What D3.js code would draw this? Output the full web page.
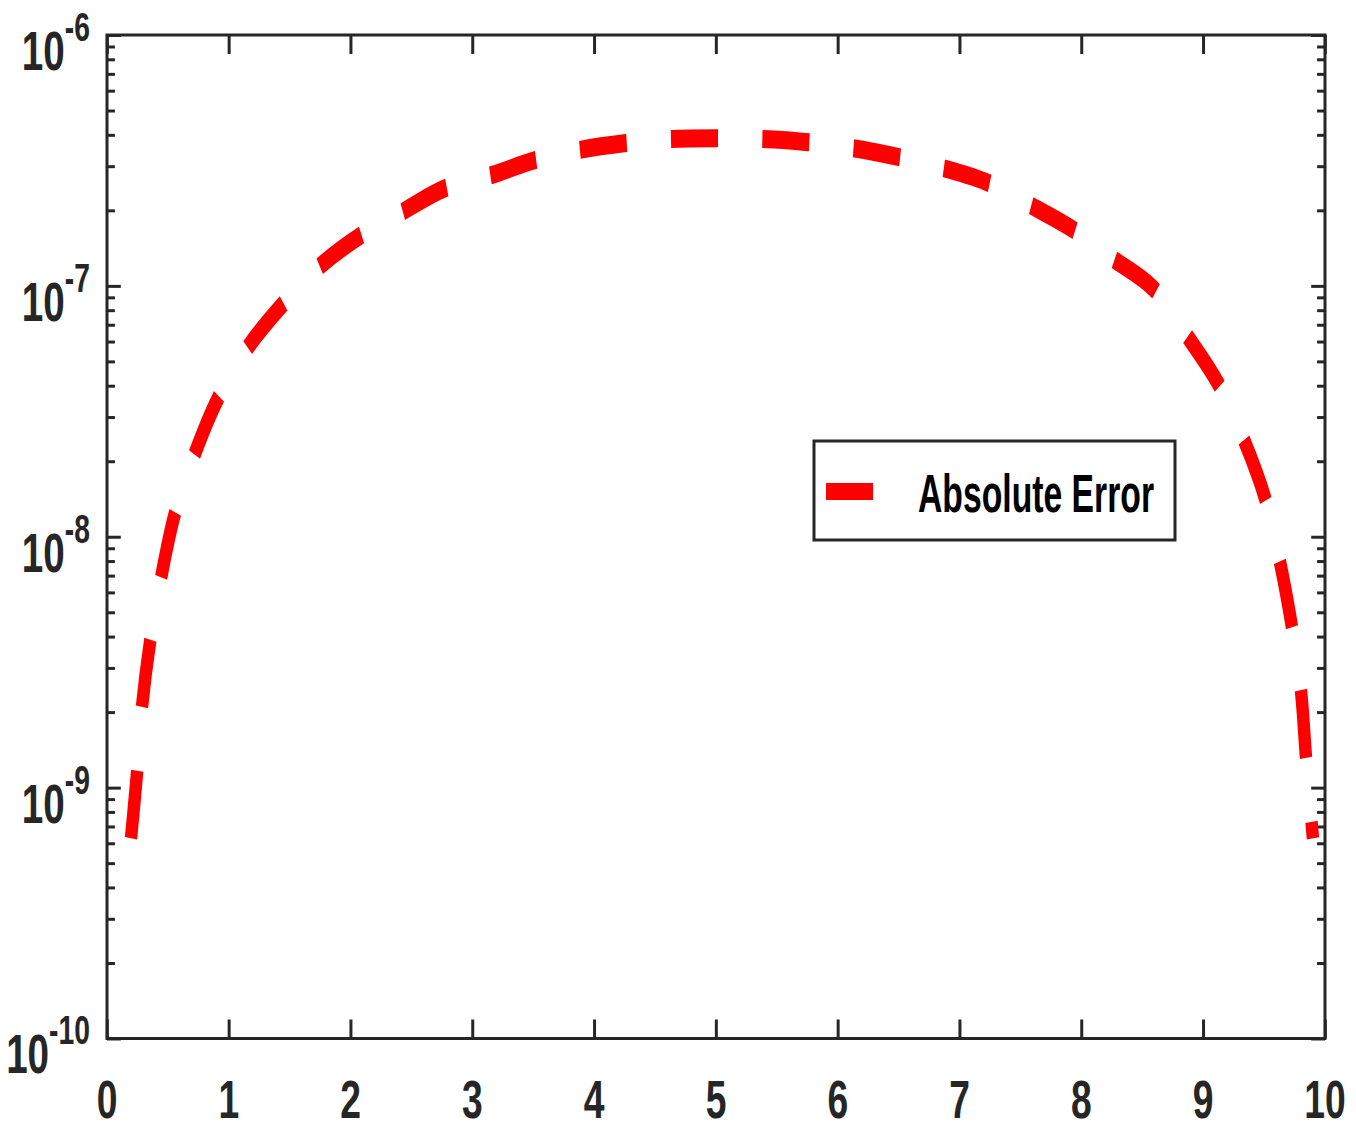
<!DOCTYPE html>
<html>
<head>
<meta charset="utf-8">
<script src="https://cdn.jsdelivr.net/npm/d3@7"></script>
<style>
  html, body { margin: 0; padding: 0; background: #ffffff; }
  svg { display: block; }
</style>
</head>
<body>
<script>
// ---------------- data ----------------
const xValues = [0.197, 0.246, 0.287, 0.353, 0.443, 0.558, 0.722, 0.911, 1.158, 1.437,
  1.732, 2.077, 2.422, 2.775, 3.161, 3.514, 3.875, 4.261, 4.622, 5.008,
  5.378, 5.755, 6.125, 6.502, 6.864, 7.241, 7.578, 7.939, 8.251, 8.588,
  8.875, 9.122, 9.335, 9.507, 9.631, 9.729, 9.803, 9.844, 9.901];
const errorValues = [6.28e-10, 1.14e-9, 2.09e-9, 3.79e-9, 6.82e-9, 1.24e-8, 2.15e-8, 3.56e-8, 5.70e-8, 8.38e-8,
  1.18e-7, 1.58e-7, 1.97e-7, 2.45e-7, 2.77e-7, 3.17e-7, 3.48e-7, 3.71e-7, 3.85e-7, 3.88e-7,
  3.85e-7, 3.74e-7, 3.54e-7, 3.26e-7, 2.95e-7, 2.57e-7, 2.10e-7, 1.67e-7, 1.29e-7, 9.79e-8,
  6.25e-8, 4.09e-8, 2.43e-8, 1.43e-8, 7.91e-9, 4.36e-9, 2.42e-9, 1.32e-9, 6.28e-10];
const xTicks = [0, 1, 2, 3, 4, 5, 6, 7, 8, 9, 10];
const xTickLabels = ["0", "1", "2", "3", "4", "5", "6", "7", "8", "9", "10"];
const yTicks = [1e-10, 1e-9, 1e-8, 1e-7, 1e-6];
const yTickExponents = ["-10", "-9", "-8", "-7", "-6"];
const seriesName = "Absolute Error";

// ---------------- layout ----------------
const W = 1356, H = 1135;
const SX = 0.69;                 // horizontal squash of the original figure
const plot = { left: 107, right: 1325, top: 35, bottom: 1038.5 };
const AX = "#262626";
const FONT = "'Liberation Sans', Arial, Helvetica, sans-serif";

const svg = d3.select("body").append("svg")
  .attr("width", W).attr("height", H)
  .attr("viewBox", `0 0 ${W} ${H}`);
svg.append("rect").attr("width", W).attr("height", H).attr("fill", "#fff");

const g = svg.append("g").attr("transform", `scale(${SX},1)`);

const x = d3.scaleLinear().domain([0, 10]).range([plot.left / SX, plot.right / SX]);
const y = d3.scaleLog().domain([1e-10, 1e-6]).range([plot.bottom, plot.top]);

// minor y ticks
const yMinor = [];
for (let e = -10; e < -6; e++) for (let m = 2; m <= 9; m++) yMinor.push(m * Math.pow(10, e));

function styleAxis(sel) {
  sel.select(".domain").remove();
  sel.selectAll("text").remove();
  sel.selectAll("line").attr("stroke", AX).attr("stroke-width", 3)
    .attr("vector-effect", "non-scaling-stroke");
}

// x ticks bottom / top (inward)
g.append("g").attr("transform", `translate(0,${plot.bottom})`)
  .call(d3.axisBottom(x).tickValues(xTicks).tickSize(-19).tickFormat(""))
  .call(styleAxis);
g.append("g").attr("transform", `translate(0,${plot.top})`)
  .call(d3.axisTop(x).tickValues(xTicks).tickSize(-19).tickFormat(""))
  .call(styleAxis);
// y major ticks left / right
g.append("g").attr("transform", `translate(${x(0)},0)`)
  .call(d3.axisLeft(y).tickValues(yTicks).tickSize(-20).tickFormat(""))
  .call(styleAxis);
g.append("g").attr("transform", `translate(${x(10)},0)`)
  .call(d3.axisRight(y).tickValues(yTicks).tickSize(-20).tickFormat(""))
  .call(styleAxis);
// y minor ticks
g.append("g").attr("transform", `translate(${x(0)},0)`)
  .call(d3.axisLeft(y).tickValues(yMinor).tickSize(-11.5).tickFormat(""))
  .call(styleAxis);
g.append("g").attr("transform", `translate(${x(10)},0)`)
  .call(d3.axisRight(y).tickValues(yMinor).tickSize(-11.5).tickFormat(""))
  .call(styleAxis);

// box
g.append("rect")
  .attr("x", x(0)).attr("y", plot.top)
  .attr("width", x(10) - x(0)).attr("height", plot.bottom - plot.top)
  .attr("fill", "none").attr("stroke", AX).attr("stroke-width", 3)
  .attr("vector-effect", "non-scaling-stroke");

// x labels
g.append("g").selectAll("text").data(xTicks).join("text")
  .attr("x", d => x(d)).attr("y", 1118)
  .attr("text-anchor", "middle")
  .attr("font-family", FONT).attr("font-weight", "bold").attr("font-size", 54)
  .attr("fill", AX)
  .text((d, i) => xTickLabels[i]);

// y labels 10^e
const yl = g.append("g").selectAll("text").data(yTicks).join("text")
  .attr("x", 90 / SX).attr("y", d => y(d) + 35)
  .attr("text-anchor", "end")
  .attr("font-family", FONT).attr("font-weight", "bold")
  .attr("fill", AX);
yl.append("tspan").attr("font-size", 56).text("10");
yl.append("tspan").attr("font-size", 41).attr("dy", -29).text((d, i) => yTickExponents[i]);

// curve
const pts = xValues.map((v, i) => [v, errorValues[i]]);
const line = d3.line().x(d => x(d[0])).y(d => y(d[1])).curve(d3.curveCatmullRom.alpha(0.5));
const path = g.append("path").datum(pts)
  .attr("d", line)
  .attr("fill", "none").attr("stroke", "#ff0000").attr("stroke-width", 18)
  .attr("stroke-linecap", "butt").attr("stroke-linejoin", "round");
const L = path.node().getTotalLength();
const period = (L - 17) / 19;
const dash = period * 0.515;
path.attr("stroke-dasharray", `${dash} ${period - dash}`);

// legend
const lg = { x0: 814, x1: 1175, y0: 441, y1: 540 };
g.append("rect")
  .attr("x", lg.x0 / SX).attr("y", lg.y0)
  .attr("width", (lg.x1 - lg.x0) / SX).attr("height", lg.y1 - lg.y0)
  .attr("fill", "#fff").attr("stroke", AX).attr("stroke-width", 3)
  .attr("vector-effect", "non-scaling-stroke");
g.append("line")
  .attr("x1", 826 / SX).attr("x2", 826 / SX + dash)
  .attr("y1", 491.5).attr("y2", 491.5)
  .attr("stroke", "#ff0000").attr("stroke-width", 17);
g.append("text")
  .attr("x", 918 / SX).attr("y", 512)
  .attr("font-family", FONT).attr("font-weight", "bold").attr("font-size", 53)
  .attr("textLength", 236 / SX).attr("lengthAdjust", "spacingAndGlyphs")
  .attr("fill", "#000")
  .text(seriesName);
</script>
</body>
</html>
